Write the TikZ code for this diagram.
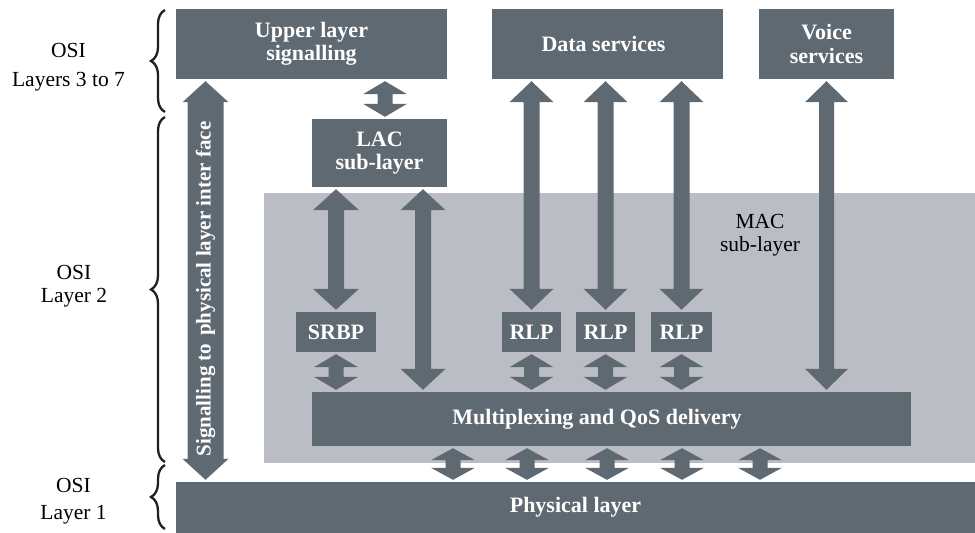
\documentclass[tikz,border=0pt]{standalone}
\usepackage{fontspec}
\setmainfont{Liberation Serif}
\usetikzlibrary{calc,decorations.pathreplacing}
\definecolor{boxc}{RGB}{94,105,113}
\definecolor{macc}{RGB}{186,189,196}
\definecolor{bracec}{RGB}{30,33,36}
% #1 x reference, #2 upper node, #3 lower node, #4 shaft half width, #5 head half width, #6 head length
\newcommand\fatdbl[6]{%
  \path (#1 |- #2.south) ++(0,2) coordinate (P) (#1 |- #3.north) ++(0,-2) coordinate (Q);
  \fill[boxc] (P) -- ++(#5,#6) -- ++(#4-#5,0) -- ($(Q)+(#4,-#6)$) -- ++(#5-#4,0) -- (Q)
    -- ++(-#5,-#6) -- ++(#5-#4,0) -- ($(P)+(-#4,#6)$) -- ++(#4-#5,0) -- cycle;
}
\begin{document}
\begin{tikzpicture}[x=1pt,y=-1pt,
  box/.style={fill=boxc, text=white, font=\bfseries\fontsize{22}{23.5}\selectfont,
    align=center, inner sep=0pt},
  lbl/.style={font=\fontsize{21.5}{#1}\selectfont, align=center, inner sep=0pt, anchor=north},
  bracestyle/.style={draw=bracec, line width=2.3pt, decorate,
    decoration={brace, amplitude=14pt}}]
\useasboundingbox (0,0) rectangle (975,533);

% MAC area
\node[fill=macc, minimum width=711pt, minimum height=270pt, anchor=north west, inner sep=0pt] (mac) at (264,193) {};
\node[lbl=23pt] (maclbl) at (760,214) {MAC\\sub-layer};

% boxes
\node[box, minimum width=271pt, minimum height=70pt] (upper) at (311.5,44) {Upper layer\\signalling};
\node[box, minimum width=231pt, minimum height=70pt] (data) at (607.5,44) {Data services\hspace*{8pt}};
\node[box, minimum width=135pt, minimum height=70pt] (voice) at (826.5,44) {Voice\\services};
\node[box, minimum width=135pt, minimum height=68pt] (lac) at (379.5,153) {LAC\\sub-layer};
\node[box, minimum width=80pt, minimum height=40pt] (srbp) at (336,332) {SRBP};
\node[box, minimum width=59pt, minimum height=40pt] (rlp1) at (531.5,332) {RLP};
\node[box, minimum width=59pt, minimum height=40pt] (rlp2) at (605.5,332) {RLP};
\node[box, minimum width=61pt, minimum height=40pt] (rlp3) at (681.5,332) {RLP};
\node[box, minimum width=599pt, minimum height=54pt] (mux) at (611.5,419) {Multiplexing and QoS delivery\hspace*{29pt}};
\node[box, minimum width=799pt, minimum height=51pt] (phys) at (575.5,507.5) {Physical layer};

% x positions of arrows not centred on a box
\coordinate (sx) at (205.5,0);
\coordinate (ul) at (385,0);
\coordinate (lm) at (423,0);
\coordinate (m1) at (453,0);
\coordinate (m2) at (527,0);
\coordinate (m3) at (607,0);
\coordinate (m4) at (682,0);
\coordinate (m5) at (760,0);

% arrows
\fatdbl{sx}{upper}{phys}{18}{23}{21}
\fatdbl{ul}{upper}{lac}{7.5}{22}{13}
\fatdbl{srbp}{lac}{srbp}{8}{23}{21}
\fatdbl{lm}{lac}{mux}{8}{22.5}{21}
\fatdbl{rlp1}{data}{rlp1}{8}{22}{21}
\fatdbl{rlp2}{data}{rlp2}{8}{22}{21}
\fatdbl{rlp3}{data}{rlp3}{8}{22}{21}
\fatdbl{voice}{voice}{mux}{7.5}{21.5}{21}
\fatdbl{srbp}{srbp}{mux}{7.5}{22}{13}
\fatdbl{rlp1}{rlp1}{mux}{7.5}{22}{13}
\fatdbl{rlp2}{rlp2}{mux}{7.5}{22}{13}
\fatdbl{rlp3}{rlp3}{mux}{7.5}{22}{13}
\fatdbl{m1}{mux}{phys}{7.5}{22}{12}
\fatdbl{m2}{mux}{phys}{7.5}{22}{12}
\fatdbl{m3}{mux}{phys}{7.5}{22}{12}
\fatdbl{m4}{mux}{phys}{7.5}{22}{12}
\fatdbl{m5}{mux}{phys}{7.5}{22}{12}

\node[rotate=90, text=white, font=\bfseries\fontsize{21}{24}\selectfont, inner sep=0pt] (sigtxt) at (205.5,289)
  {Signalling to\hspace{8pt}physical layer inter face};

% braces and OSI labels
\draw[bracestyle] (165,112) -- (165,10);
\draw[bracestyle] (165,462) -- (165,117);
\draw[bracestyle] (165,529) -- (165,465);
\node[lbl=29pt] (osi37) at (68.5,43) {OSI\\Layers 3 to 7};
\node[lbl=23pt] (osi2) at (74,265) {OSI\\Layer 2};
\node[lbl=27pt] (osi1) at (73.5,478) {OSI\\Layer 1};
\end{tikzpicture}
\end{document}
